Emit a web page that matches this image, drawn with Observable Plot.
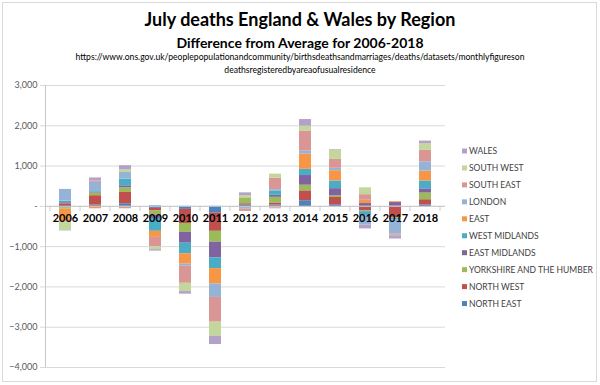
<!DOCTYPE html>
<html><head><meta charset="utf-8">
<script src="https://cdn.jsdelivr.net/npm/d3@7"></script>
<script src="https://cdn.jsdelivr.net/npm/@observablehq/plot@0.6"></script>
<style>body{margin:0;background:#fff;} svg{display:block;}</style>
</head><body><div id="chart"></div>
<script>
const years = [2006, 2007, 2008, 2009, 2010, 2011, 2012, 2013, 2014, 2015, 2016, 2017, 2018];
const regions = ["NORTH EAST", "NORTH WEST", "YORKSHIRE AND THE HUMBER", "EAST MIDLANDS", "WEST MIDLANDS", "EAST", "LONDON", "SOUTH EAST", "SOUTH WEST", "WALES"];
const colors = ["#4F81BD", "#C0504D", "#9BBB59", "#8064A2", "#4BACC6", "#F79646", "#95B3D7", "#D99694", "#C3D69B", "#B3A2C7"];

const northEast     = [-40,  35,  65,  -50,  -75, -170,  30,  35, 140,  40,   20,   10,  35];
const northWest     = [ 60, 230, 280,  -65, -350, -450,  35,  50, 245, 180, -115, -280, 130];
const yorkshire     = [-30,  65, 115, -105, -220, -270, 130, 140, 140,  40,  -15,  -20, 165];
const eastMidlands  = [ 30,  15,  50,  -80, -270, -385,  10,  50, 240, 180,   50,   85, 105];
const westMidlands  = [ 40,  20, 165, -320, -260, -270, -20, 110, 155, 190, -100,  -30, 195];
const east          = [-300, -60, -10, -150, -260, -385, -10, -40, 375, 255,  80,   20, 245];
const london        = [290, 230, 165,   20,  -50, -330, -40,  30,  75,  60, -230, -360, 230];
const southEast     = [-20,  35, -50, -230, -425, -615, -55, 285, 490, 220,  140,  -30, 285];
const southWest     = [-210,  0,  65,  -75, -205, -350,  65, 100, 130, 230,  170,  -10, 165];
const wales         = [-10,  75, 105,  -35,  -65, -205,  65, -20, 165,  15, -100,  -80,  65];
const seriesValues = [northEast, northWest, yorkshire, eastMidlands, westMidlands, east, london, southEast, southWest, wales];

const yTicks = [-4000, -3000, -2000, -1000, 0, 1000, 2000, 3000];

const data = regions.flatMap((r, i) => years.map((yr, j) => ({year: yr, region: r, value: seriesValues[i][j]})));

const W = 600, H = 385;
const mL = 45, mR = 155, mT = 85, mB = 18;
const font = "Lato, 'Open Sans', sans-serif";

const plot = Plot.plot({
  width: W, height: H,
  marginLeft: mL, marginRight: mR, marginTop: mT, marginBottom: mB,
  style: {fontFamily: font, background: "#fff", overflow: "visible"},
  x: {domain: years, paddingInner: 0.6, paddingOuter: 0.3, axis: null},
  y: {domain: [-4000, 3000], axis: null},
  color: {domain: regions, range: colors},
  marks: [
    Plot.ruleY(yTicks, {stroke: "#d9d9d9", strokeWidth: 1}),
    Plot.axisY(yTicks, {label: null, tickSize: 5, tickPadding: 3, stroke: "#d9d9d9", fill: "#595959", fontSize: 9,
      tickFormat: d => d === 0 ? "-" : d3.format(",")(d)}),
    Plot.barY(data, {x: "year", y: "value", fill: "region"}),
    Plot.ruleY([0], {stroke: "#c8c8c8"}),
    Plot.text(years, {x: d => d, y: () => 0, dy: 12, fontWeight: "bold", fontSize: 11, fill: "#000", text: d => String(d)})
  ]
});

const svg = d3.select(plot);
// outer chart border
svg.insert("rect", ":first-child").attr("x", 2.5).attr("y", 2.5).attr("width", 594).attr("height", 379)
  .attr("fill", "#fff").attr("stroke", "#d9d9d9");

// vertical axis line
svg.append("line").attr("x1", mL + 0.5).attr("x2", mL + 0.5).attr("y1", mT).attr("y2", H - mB).attr("stroke", "#c8c8c8");

// category tick marks on the zero line
const sx = plot.scale("x"), sy = plot.scale("y");
const y0 = sy.apply(0);
const step = sx.step;
years.forEach((yr, i) => {
  const c = sx.apply(yr) + sx.bandwidth / 2;
  const b = c - step / 2;
  svg.append("line").attr("x1", b).attr("x2", b).attr("y1", y0).attr("y2", y0 + 5).attr("stroke", "#c8c8c8");
  if (i === years.length - 1) {
    const e = c + step / 2;
    svg.append("line").attr("x1", e).attr("x2", e).attr("y1", y0).attr("y2", y0 + 5).attr("stroke", "#c8c8c8");
  }
});

// titles
const titles = [
  {t: "July deaths England & Wales by Region", y: 26, s: 18, w: "bold"},
  {t: "Difference from Average for 2006-2018", y: 48, s: 14, w: "bold"},
  {t: "https://www.ons.gov.uk/peoplepopulationandcommunity/birthsdeathsandmarriages/deaths/datasets/monthlyfigureson", y: 60, s: 8.6, w: "normal"},
  {t: "deathsregisteredbyareaofusualresidence", y: 73, s: 8.6, w: "normal"}
];
titles.forEach(d => {
  svg.append("text").attr("x", 300).attr("y", d.y).attr("text-anchor", "middle")
    .attr("font-family", font).attr("font-size", d.s).attr("font-weight", d.w).attr("fill", "#000").text(d.t);
});

// legend
const leg = svg.append("g").attr("font-family", font).attr("font-size", 8.5).attr("fill", "#404040").attr("text-anchor", "start");
regions.slice().reverse().forEach((r, i) => {
  const yy = 151 + i * 16.95;
  leg.append("rect").attr("x", 462).attr("y", yy - 2.5).attr("width", 5).attr("height", 5).attr("fill", colors[regions.indexOf(r)]);
  leg.append("text").attr("x", 469).attr("y", yy).attr("dy", "0.35em").attr("text-anchor", "start").text(r);
});

document.getElementById("chart").appendChild(plot);
</script>
</body></html>
